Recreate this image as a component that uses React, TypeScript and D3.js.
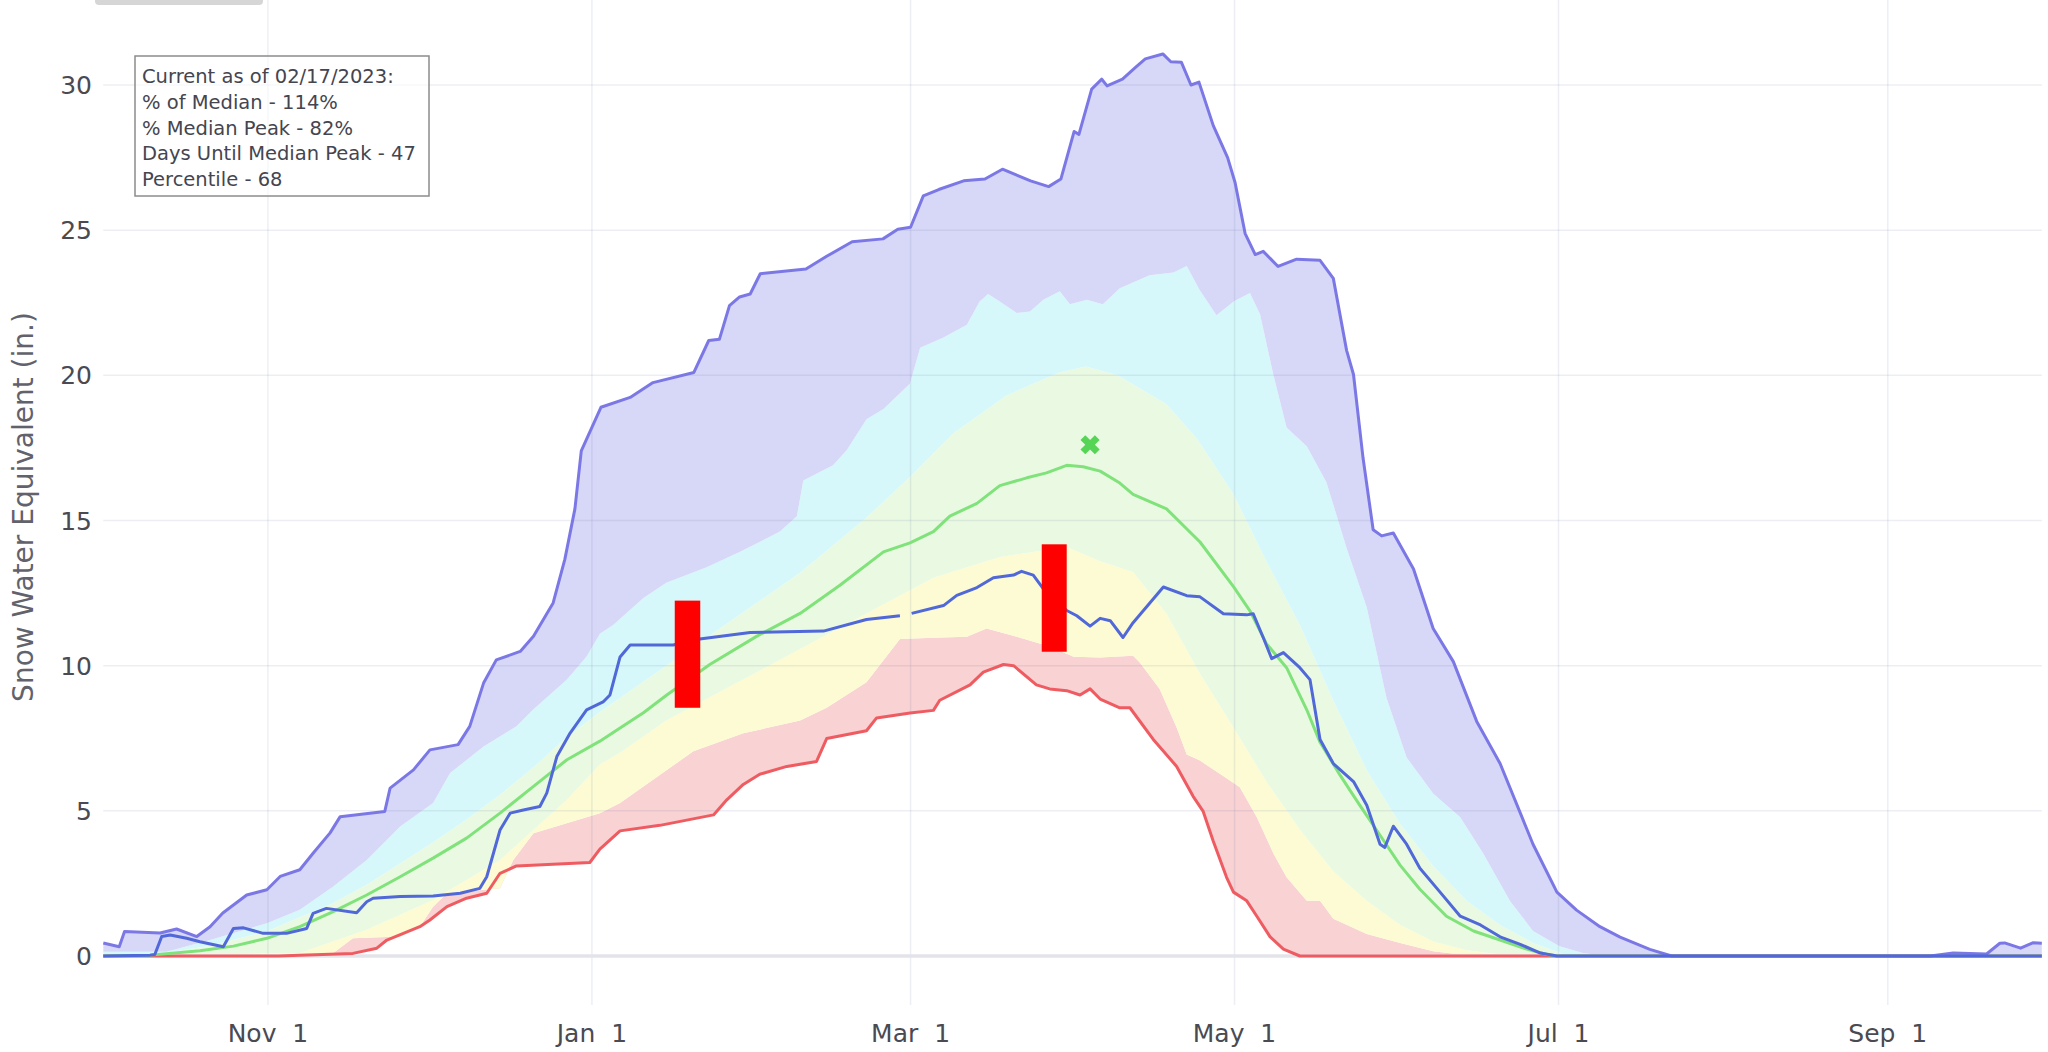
import React from "react";
import * as d3 from "d3";

// ---- data (day index from Oct 1 of the water year, SWE inches) ----
const maxSeries: [number, number][] = [[0,0.45],[3,0.32],[4,0.84],[10.7,0.79],[13.8,0.93],[17.6,0.67],[20.1,1.01],[22.5,1.48],[27,2.1],[30.8,2.28],[33.3,2.74],[37,2.97],[39.5,3.54],[42.7,4.24],[44.6,4.8],[53,4.98],[54,5.78],[58.4,6.41],[61.5,7.1],[66.8,7.28],[69,7.91],[71.6,9.4],[74,10.2],[78.5,10.49],[81,11.01],[84.7,12.16],[86.9,13.66],[88.8,15.4],[90,17.4],[93.7,18.9],[99.2,19.24],[103.5,19.75],[111.2,20.1],[114,21.2],[116,21.24],[117.9,22.4],[119.8,22.7],[121.8,22.8],[123.7,23.5],[132.3,23.66],[136.2,24.1],[141,24.6],[146.8,24.7],[149.6,25.03],[152,25.1],[154.4,26.18],[157.3,26.4],[162,26.7],[166,26.76],[169.3,27.1],[174.6,26.7],[178,26.5],[180.3,26.76],[182.8,28.4],[183.7,28.3],[186.1,29.86],[188,30.2],[189,29.97],[191.9,30.2],[194.3,30.6],[196.2,30.9],[199.5,31.07],[201,30.8],[203,30.78],[204.8,30.0],[206.3,30.1],[209,28.6],[211.7,27.5],[213.1,26.64],[215,24.88],[216.9,24.16],[218.4,24.27],[221.2,23.75],[224.7,24.0],[229.1,23.96],[231.6,23.34],[234.1,20.86],[235.4,20.03],[237.2,17.15],[239.1,14.68],[240.7,14.47],[242.9,14.57],[246.7,13.33],[250.4,11.28],[254.2,10.14],[258.6,8.08],[263,6.63],[269.2,3.85],[273.7,2.2],[277.4,1.58],[281.8,1.01],[285.6,0.65],[291.2,0.23],[295.3,0],[344,0],[348.3,0.1],[354.6,0.07],[357.1,0.44],[358,0.45],[361,0.27],[363.4,0.46],[365,0.44]];

const p90Series: [number, number][] = [[0,0.15],[11.9,0.15],[20.1,0.55],[30.8,1.13],[37,1.59],[43.3,2.39],[49.6,3.31],[55.9,4.46],[62.1,5.27],[65.3,6.3],[71.6,7.22],[77.8,7.91],[80.9,8.48],[87.3,9.52],[91,10.32],[93.5,11.1],[96,11.4],[101.7,12.33],[106,12.86],[113.6,13.39],[119.9,13.92],[127.4,14.62],[130.6,15.15],[131.8,16.38],[137.4,16.9],[140,17.43],[143.7,18.49],[146.9,18.84],[151.9,19.72],[153.8,20.95],[158.2,21.3],[162.6,21.74],[165,22.54],[166.6,22.8],[168.8,22.54],[172,22.15],[174.5,22.2],[177,22.6],[180.1,22.9],[182,22.45],[185.2,22.6],[188.2,22.45],[191.4,23.0],[197,23.45],[201.5,23.54],[204,23.77],[206.4,22.95],[209.6,22.07],[212.9,22.55],[215.9,22.84],[217.8,22.1],[220.3,20.03],[222.8,18.2],[226.6,17.56],[230.3,16.32],[234.1,14.05],[237.9,12.0],[241.6,8.9],[245.4,6.84],[250.4,5.6],[255.5,4.78],[259.8,3.54],[264.9,1.89],[269.2,0.86],[274.2,0.34],[278.6,0.1],[283,0],[365,0]];

const p70Series: [number, number][] = [[0,0],[10,0.05],[20,0.35],[30.8,0.85],[43,1.8],[50,2.5],[56,3.2],[62,3.9],[68.4,4.7],[75,5.6],[81,6.5],[87,7.5],[93.5,8.4],[106,10.0],[118.6,11.6],[131.2,13.2],[143.7,15.1],[151.9,16.5],[160,18.0],[170,19.3],[180,20.1],[185,20.3],[191,20.0],[200.2,19.0],[206,17.8],[212.8,15.9],[219,13.6],[225.3,11.4],[231.6,8.8],[237.9,6.4],[244,4.6],[250.4,3.1],[256.7,1.9],[263,1.07],[269.2,0.45],[276,0],[365,0]];

const medianSeries: [number, number][] = [[0,0],[8.8,0.03],[18.2,0.18],[24.5,0.34],[30.8,0.61],[37,1.01],[43.3,1.53],[49.6,2.1],[55.9,2.73],[62.1,3.37],[68.4,4.06],[74.7,4.92],[81,5.84],[87.3,6.76],[93.5,7.4],[97.3,7.85],[101.7,8.38],[106.1,8.99],[114.2,10.04],[123,11.01],[131.2,11.8],[138.7,12.77],[146.9,13.92],[151.9,14.23],[156.3,14.62],[159.4,15.15],[164.5,15.59],[168.8,16.2],[173.9,16.47],[177.6,16.64],[181.4,16.9],[184.5,16.85],[187.7,16.7],[191.4,16.29],[193.9,15.9],[200.2,15.4],[206.5,14.26],[212.8,12.72],[215.9,11.89],[219,10.76],[222.8,9.93],[226.6,8.48],[229.1,7.36],[232.9,6.22],[236.6,5.19],[240.4,4.16],[244.2,3.12],[247.9,2.3],[252.9,1.37],[258,0.86],[263,0.55],[268,0.24],[271.8,0.05],[274,0],[365,0]];

const p30Series: [number, number][] = [[0,0],[37,0.1],[49.6,0.9],[62.1,1.93],[74.7,3.31],[87.3,5.38],[93.5,6.6],[97.3,7.0],[106,8.11],[118.6,9.34],[131.2,10.57],[143.7,11.8],[156.3,13.03],[168.8,13.74],[181.4,14.09],[187.7,13.6],[193.9,13.23],[200.2,11.79],[206.5,9.72],[212.8,7.87],[219,6.01],[225.3,4.36],[231.6,2.92],[237.9,1.9],[244.2,1.07],[250.4,0.5],[256.7,0.2],[263,0.05],[268,0],[365,0]];

const p10Series: [number, number][] = [[0,0],[40,0],[43.3,0.1],[47,0.61],[55.9,0.67],[59.6,1.01],[62.1,1.7],[64.7,2.16],[74.7,2.33],[77.2,3.31],[81,4.23],[93.5,4.92],[97.3,5.27],[111.1,7.05],[120.5,7.67],[131.2,8.11],[136.2,8.55],[143.7,9.43],[150,10.92],[156.3,10.96],[162.6,11.0],[166.3,11.28],[172,11.0],[178.2,10.66],[182.7,10.31],[187.7,10.28],[193.9,10.34],[195.2,10.1],[198.9,9.2],[202.1,7.87],[204,6.94],[206.5,6.73],[211.5,6.12],[214,5.81],[217.2,4.78],[220.3,3.54],[222.8,2.71],[226.6,1.9],[229.1,1.9],[231.6,1.28],[237.9,0.76],[244.2,0.45],[250.4,0.16],[256.7,0.03],[260,0],[365,0]];

const minSeries: [number, number][] = [[0,0],[33,0],[37,0.03],[47,0.09],[51.5,0.27],[53.4,0.55],[59.6,1.01],[61.5,1.24],[64.7,1.7],[68.4,1.99],[72.2,2.16],[74.7,2.85],[77.8,3.1],[91.6,3.22],[93.5,3.68],[97.3,4.31],[104.8,4.5],[114.9,4.86],[117.4,5.38],[120.5,5.91],[123.6,6.26],[128.7,6.53],[134.3,6.7],[136.2,7.49],[143.7,7.76],[145.6,8.2],[151.9,8.37],[156.3,8.46],[157.5,8.81],[163.2,9.34],[165.7,9.78],[169.5,10.04],[171.4,10.0],[175.7,9.34],[178.2,9.2],[181.4,9.14],[183.9,8.99],[185.8,9.2],[187.7,8.85],[191.4,8.55],[193.3,8.55],[197.7,7.46],[202.1,6.53],[205.2,5.5],[207.1,4.98],[209,3.95],[211.5,2.71],[212.8,2.2],[215.3,1.9],[217.2,1.37],[219.7,0.66],[222.2,0.24],[225.3,0],[365,0]];

const yearSeries: [number, number | null][] = [[0,0],[8.8,0.03],[9.7,0.05],[11,0.67],[12.6,0.72],[15.7,0.61],[18.2,0.49],[22.6,0.32],[24.5,0.95],[26.4,0.97],[30.1,0.78],[34.5,0.78],[38.3,0.95],[39.5,1.47],[42,1.64],[47.7,1.49],[49.6,1.87],[50.8,1.99],[55.9,2.05],[62.1,2.07],[67.2,2.16],[70.9,2.33],[72.2,2.73],[74.7,4.34],[76.6,4.92],[79.1,5.03],[82.2,5.15],[83.5,5.61],[85.4,6.87],[87.9,7.68],[91,8.48],[94.1,8.75],[95.4,8.99],[97.3,10.3],[99.2,10.71],[107.3,10.71],[112.3,10.92],[121.8,11.14],[135.6,11.19],[143.7,11.59],[150,11.72],[151,null],[152.2,11.8],[158.2,12.07],[160.7,12.42],[164.5,12.69],[167.6,13.03],[171.4,13.12],[172.9,13.25],[175.1,13.12],[177.6,12.5],[181.4,11.9],[183.3,11.72],[185.8,11.36],[187.7,11.63],[189.6,11.55],[192,10.97],[193.9,11.48],[199.6,12.71],[204,12.41],[206.5,12.37],[210.9,11.79],[215.3,11.75],[216.5,11.79],[218.4,10.97],[220,10.24],[222.2,10.45],[225.3,9.93],[227.2,9.52],[229.1,7.46],[231.6,6.63],[235.4,6.01],[237.9,5.19],[240.4,3.85],[241.3,3.74],[242.9,4.47],[245.4,3.85],[247.9,3.02],[251.7,2.2],[255.5,1.37],[259.3,1.07],[263,0.66],[266.8,0.4],[270.6,0.1],[273.7,0],[365,0]];

const medianPeak: [number, number] = [185.8, 17.61];

const highlightBars = [
  { d0: 107.6, d1: 112.4, lo: 8.55, hi: 12.24 },
  { d0: 176.7, d1: 181.4, lo: 10.48, hi: 14.18 },
];

const waterYearStart = "2019-10-01";
const xTickDates = ["2019-11-01", "2020-01-01", "2020-03-01", "2020-05-01", "2020-07-01", "2020-09-01"];
const xTickLabels = ["Nov\u00a0\u00a01", "Jan\u00a0\u00a01", "Mar\u00a0\u00a01", "May\u00a0\u00a01", "Jul\u00a0\u00a01", "Sep\u00a0\u00a01"];
const yTicks = [0, 5, 10, 15, 20, 25, 30];

const annotationLines = [
  "Current as of 02/17/2023:",
  "% of Median - 114%",
  "% Median Peak - 82%",
  "Days Until Median Peak - 47",
  "Percentile - 68",
];

const FONT = "'DejaVu Sans', Verdana, sans-serif";

export default function App() {
  const W = 2048, H = 1052;
  const plotLeft = 103.3, plotRight = 2041.8, plotBottom = 1005;
  const x = d3.scaleLinear().domain([0, 365]).range([plotLeft, plotRight]);
  const y = d3.scaleLinear().domain([0, 30]).range([956, 85]);
  const parse = d3.timeParse("%Y-%m-%d");
  const base = parse(waterYearStart)!;
  const tickDays = xTickDates.map((s) => d3.timeDay.count(base, parse(s)!));

  const line = d3.line<[number, number]>().x((d) => x(d[0])).y((d) => y(d[1]));
  const yearLine = d3
    .line<[number, number | null]>()
    .defined((d) => d[1] !== null)
    .x((d) => x(d[0]))
    .y((d) => y(d[1] as number));

  const band = (upper: [number, number][], lower: [number, number][]) => {
    const up = line(upper) || "";
    const low = (line([...lower].reverse()) || "").replace(/^M/, "L");
    return up + low + "Z";
  };

  const bands = [
    { upper: p10Series, lower: minSeries, fill: "#f9d2d3" },
    { upper: p30Series, lower: p10Series, fill: "#fdfbd3" },
    { upper: p70Series, lower: p30Series, fill: "#eafae2" },
    { upper: p90Series, lower: p70Series, fill: "#d6f8fa" },
    { upper: maxSeries, lower: p90Series, fill: "#d7d7f8" },
  ];

  const markerPath = d3.symbol().type(d3.symbolCross).size(230)() || "";

  return (
    <svg width={W} height={H} style={{ position: "absolute", left: 0, top: 0, background: "#fff" }}>
      <rect x={95} y={-6} width={168} height={11} rx={4} fill="#d6d6d6" />

      {bands.map((b, i) => (
        <path key={i} d={band(b.upper, b.lower)} fill={b.fill} stroke="none" />
      ))}

      {/* grid */}
      {tickDays.map((d, i) => (
        <line key={"vx" + i} x1={x(d)} x2={x(d)} y1={0} y2={plotBottom} stroke="rgba(110,120,165,0.13)" strokeWidth={1.5} />
      ))}
      {yTicks.filter((t) => t > 0).map((t) => (
        <line key={"gy" + t} x1={plotLeft} x2={plotRight} y1={y(t)} y2={y(t)} stroke="rgba(110,120,165,0.13)" strokeWidth={1.5} />
      ))}
      <line x1={plotLeft} x2={plotRight} y1={y(0)} y2={y(0)} stroke="#e3e3ea" strokeWidth={3.5} />

      {/* lines */}
      <path d={line(minSeries) || ""} fill="none" stroke="#ee5c62" strokeWidth={3} strokeLinejoin="round" />
      <path d={line(medianSeries) || ""} fill="none" stroke="#80e27a" strokeWidth={3} strokeLinejoin="round" />
      <path d={line(maxSeries) || ""} fill="none" stroke="#7b78e6" strokeWidth={3} strokeLinejoin="round" />
      <path d={yearLine(yearSeries) || ""} fill="none" stroke="#5068d8" strokeWidth={3} strokeLinejoin="round" />

      <path d={markerPath} transform={`translate(${x(medianPeak[0])},${y(medianPeak[1])}) rotate(45)`} fill="#55d455" />

      {highlightBars.map((b, i) => (
        <rect key={"hb" + i} x={x(b.d0)} y={y(b.hi)} width={x(b.d1) - x(b.d0)} height={y(b.lo) - y(b.hi)} fill="#ff0000" />
      ))}

      {/* axes labels */}
      {yTicks.map((t) => (
        <text key={"yt" + t} x={92} y={y(t)} dy="0.36em" textAnchor="end" fontFamily={FONT} fontSize={25} fill="#4a4a52">
          {t}
        </text>
      ))}
      {tickDays.map((d, i) => (
        <text key={"xt" + i} x={x(d)} y={1042} textAnchor="middle" fontFamily={FONT} fontSize={25} fill="#4a4a52">
          {xTickLabels[i]}
        </text>
      ))}
      <text
        transform={`translate(23,507) rotate(-90)`}
        textAnchor="middle"
        dy="0.36em"
        fontFamily={FONT}
        fontSize={28}
        fill="#62626c"
      >
        Snow Water Equivalent (in.)
      </text>

      {/* annotation */}
      <rect x={135} y={56} width={294} height={140} fill="rgba(255,255,255,0.55)" stroke="#8c8c8c" strokeWidth={1.5} />
      {annotationLines.map((s, i) => (
        <text key={"an" + i} x={142} y={83 + i * 25.8} fontFamily={FONT} fontSize={19.5} fill="#45454f">
          {s}
        </text>
      ))}
    </svg>
  );
}
